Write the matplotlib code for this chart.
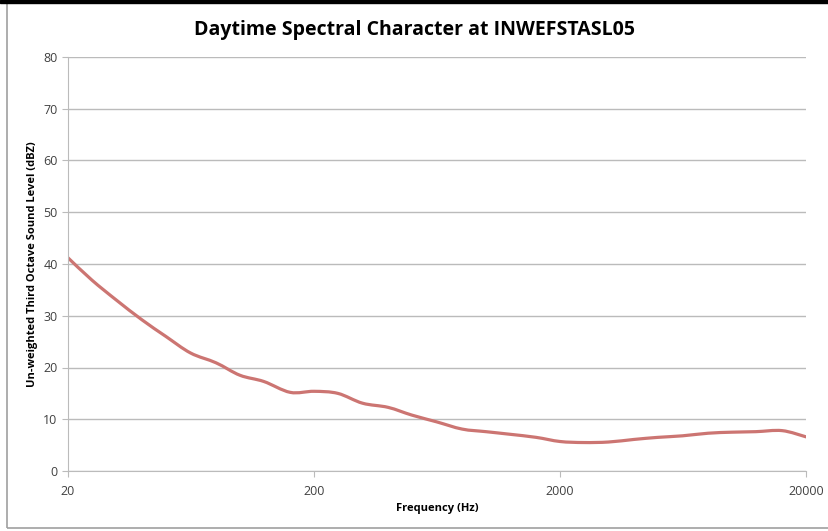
import numpy as np
import matplotlib.pyplot as plt
from matplotlib.path import Path
from matplotlib.patches import PathPatch, Rectangle

# third octave bands (Hz) and levels (dBZ)
freq = [20, 25, 31.5, 40, 50, 63, 80, 100, 125, 160, 200, 250, 315, 400, 500,
        630, 800, 1000, 1250, 1600, 2000, 2500, 3150, 4000, 5000, 6300, 8000,
        10000, 12500, 16000, 20000]
level = [41.2, 36.9, 33.0, 29.2, 26.0, 22.8, 20.9, 18.5, 17.3, 15.2, 15.4,
         15.0, 13.1, 12.3, 10.8, 9.5, 8.1, 7.6, 7.1, 6.5, 5.7, 5.5, 5.6, 6.1,
         6.5, 6.8, 7.3, 7.5, 7.6, 7.8, 6.6]
xticks = [20, 200, 2000, 20000]

plt.rcParams['font.family'] = ['Open Sans', 'DejaVu Sans']

fig = plt.figure(figsize=(8.29, 5.31), dpi=100)
ax = fig.add_axes([68/829, 1-471/531, 738/829, 414/531])

# smooth line like excel: catmull-rom -> bezier in log-x space
lx = np.log10(freq)
ly = np.array(level)
verts = [(lx[0], ly[0])]
codes = [Path.MOVETO]
n = len(lx)
for i in range(n - 1):
    p0 = i - 1 if i > 0 else i
    p3 = i + 2 if i + 2 < n else i + 1
    c1 = (lx[i] + (lx[i+1] - lx[p0]) / 6, ly[i] + (ly[i+1] - ly[p0]) / 6)
    c2 = (lx[i+1] - (lx[p3] - lx[i]) / 6, ly[i+1] - (ly[p3] - ly[i]) / 6)
    verts += [c1, c2, (lx[i+1], ly[i+1])]
    codes += [Path.CURVE4] * 3
verts = [(10**vx, vy) for vx, vy in verts]
ax.add_patch(PathPatch(Path(verts, codes), facecolor='none',
                       edgecolor='#CC7572', lw=2.3, capstyle='round'))

ax.set_xscale('log')
ax.set_xlim(20, 20000)
ax.set_ylim(0, 80)
ax.set_yticks(range(0, 81, 10))
ax.set_xticks(xticks)
ax.set_xticklabels([str(t) for t in xticks])
ax.xaxis.set_minor_locator(plt.NullLocator())
ax.grid(axis='y', color='#BBBBBB', lw=1)
ax.set_axisbelow(True)
for s in ['top', 'right']:
    ax.spines[s].set_visible(False)
for s in ['left', 'bottom']:
    ax.spines[s].set_color('#BBBBBB')
ax.tick_params(axis='both', colors='#BBBBBB', labelcolor='#404040',
               labelsize=9, length=4)
ax.tick_params(axis='x', pad=6)

ax.set_xlabel('Frequency (Hz)', fontsize=8, fontweight='bold', labelpad=4)
ax.set_ylabel('Un-weighted Third Octave Sound Level (dBZ)', fontsize=8,
              fontweight='bold', labelpad=4)
fig.text(0.5, 1-30/531, 'Daytime Spectral Character at INWEFSTASL05',
         ha='center', va='center', fontsize=14, fontweight='bold')

# outer chart frame
fig.patches.append(Rectangle((7/829, 3/531), 1, 1-6/531, transform=fig.transFigure,
                             fill=False, edgecolor='#A0A0A0', lw=1.2))
fig.patches.append(Rectangle((0, 1-3/531), 1, 3/531, transform=fig.transFigure,
                             color='black'))

fig.savefig('out.png', dpi=100)
